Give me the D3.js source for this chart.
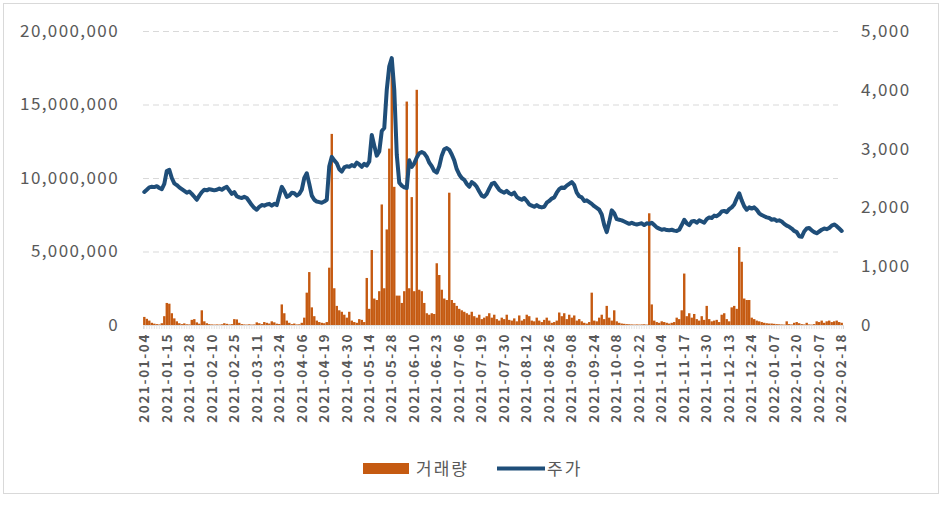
<!DOCTYPE html>
<html>
<head>
<meta charset="utf-8">
<script src="https://cdn.jsdelivr.net/npm/d3@7"></script>
<style>
  body { margin: 0; background: #fff; }
  svg text { font-family: "Noto Sans CJK KR", "Noto Sans", sans-serif; fill: #595959; }
</style>
</head>
<body>
<div id="chart"></div>
<script>
// KRX holidays inside the range (weekdays only)
const holidays = ['2021-02-11', '2021-02-12', '2021-03-01', '2021-05-05', '2021-05-19',
    '2021-08-16', '2021-09-20', '2021-09-21', '2021-09-22', '2021-10-04', '2021-10-11',
    '2021-12-31', '2022-01-31', '2022-02-01', '2022-02-02'];
const firstDay = '2021-01-04', lastDay = '2022-02-18';

// 거래량 (shares), one per trading day
const volume = [
    550000, 420000, 300000, 150000, 90000, 60000, 40000, 120000, 600000, 1500000,
    1450000, 800000, 450000, 250000, 120000, 60000, 110000, 50000, 40000, 350000,
    400000, 180000, 90000, 1000000, 250000, 120000, 60000, 40000, 30000, 40000,
    30000, 50000, 120000, 80000, 40000, 60000, 400000, 380000, 150000, 60000,
    40000, 30000, 50000, 30000, 40000, 180000, 120000, 60000, 200000, 150000,
    100000, 250000, 180000, 90000, 70000, 1400000, 800000, 300000, 150000, 60000,
    100000, 40000, 50000, 150000, 500000, 2200000, 3600000, 1200000, 600000, 300000,
    200000, 150000, 120000, 200000, 3900000, 13000000, 2500000, 1300000, 1000000, 900000,
    700000, 500000, 900000, 300000, 200000, 150000, 400000, 350000, 200000, 3200000,
    1100000, 5100000, 1800000, 1700000, 2300000, 8200000, 2500000, 6500000, 12000000, 18000000,
    9400000, 2000000, 2000000, 1500000, 2300000, 15200000, 2500000, 8700000, 2300000, 16000000,
    2400000, 2300000, 1500000, 800000, 700000, 800000, 750000, 4200000, 3400000, 2400000,
    1800000, 1700000, 9000000, 1700000, 1500000, 1300000, 1100000, 1000000, 900000, 800000,
    700000, 900000, 600000, 500000, 700000, 400000, 500000, 600000, 800000, 500000,
    700000, 400000, 300000, 500000, 400000, 700000, 350000, 300000, 450000, 250000,
    650000, 300000, 400000, 700000, 600000, 300000, 250000, 500000, 300000, 200000,
    350000, 500000, 300000, 150000, 200000, 300000, 850000, 600000, 800000, 400000,
    700000, 500000, 650000, 300000, 400000, 250000, 150000, 100000, 200000, 2200000,
    300000, 250000, 500000, 700000, 400000, 1300000, 500000, 300000, 1000000, 250000,
    150000, 100000, 80000, 60000, 50000, 40000, 30000, 40000, 30000, 40000,
    50000, 30000, 7600000, 1400000, 300000, 200000, 150000, 250000, 200000, 150000,
    100000, 150000, 200000, 500000, 400000, 1000000, 3500000, 600000, 800000, 500000,
    750000, 400000, 300000, 600000, 350000, 1300000, 400000, 250000, 300000, 350000,
    200000, 700000, 800000, 400000, 250000, 1200000, 1300000, 1100000, 5300000, 4300000,
    1800000, 1700000, 1700000, 500000, 400000, 300000, 250000, 200000, 150000, 120000,
    100000, 100000, 80000, 60000, 50000, 40000, 30000, 250000, 60000, 40000,
    150000, 200000, 120000, 60000, 40000, 150000, 40000, 30000, 60000, 250000,
    200000, 300000, 150000, 250000, 300000, 200000, 250000, 300000, 200000, 150000
];

// 주가 (won), one per trading day
const price = [
    2262, 2300, 2340, 2350, 2345, 2360, 2330, 2310, 2400, 2620,
    2640, 2500, 2410, 2380, 2340, 2310, 2280, 2250, 2270, 2230,
    2180, 2130, 2200, 2260, 2300, 2290, 2310, 2300, 2290, 2300,
    2320, 2300, 2330, 2350, 2290, 2230, 2260, 2190, 2170, 2160,
    2180, 2160, 2100, 2040, 1990, 1960, 2010, 2040, 2030, 2050,
    2060, 2030, 2060, 2040, 2200, 2350, 2280, 2180, 2200, 2250,
    2240, 2200, 2230, 2300, 2500, 2580, 2400, 2200, 2130, 2100,
    2090, 2080, 2100, 2130, 2700, 2860, 2800, 2750, 2650, 2610,
    2680, 2700, 2690, 2720, 2700, 2760, 2730, 2690, 2740, 2710,
    2780, 3230, 3050, 2880, 2950, 3300, 3350, 4000, 4400, 4540,
    4000, 2900, 2420, 2370, 2340, 2330, 2800, 2690, 2750, 2850,
    2920, 2940, 2920, 2860, 2760, 2700, 2620, 2590, 2700, 2880,
    2990, 3010, 2980, 2900, 2800, 2650, 2560, 2500, 2470, 2400,
    2350, 2430, 2400, 2350, 2270, 2200, 2180, 2230, 2320, 2400,
    2420, 2360, 2300, 2270, 2250, 2280, 2240, 2220, 2250, 2180,
    2150, 2130, 2160, 2110, 2050, 2030, 2010, 2040, 2010, 2000,
    2010, 2080, 2110, 2150, 2170, 2250, 2310, 2340, 2330, 2370,
    2400, 2430, 2380, 2250, 2190, 2170, 2110, 2120, 2090, 2060,
    2020, 1990, 1960, 1880, 1700, 1580, 1750, 1950, 1900, 1800,
    1790, 1780, 1760, 1740, 1720, 1740, 1720, 1710, 1720, 1730,
    1700, 1730, 1720, 1740, 1700, 1660, 1640, 1620, 1630, 1615,
    1610, 1620, 1605, 1600, 1620, 1700, 1790, 1730, 1700, 1760,
    1770, 1740, 1780, 1760, 1740, 1800, 1830, 1820, 1860, 1850,
    1880, 1930, 1940, 1920, 1970, 2000, 2050, 2150, 2240, 2120,
    2020, 1960, 2000, 1980, 2000, 1960, 1900, 1870, 1850, 1830,
    1820, 1790, 1800, 1770, 1780, 1760, 1720, 1690, 1670, 1640,
    1600, 1580, 1510, 1500, 1590, 1640, 1650, 1610, 1580, 1560,
    1590, 1620, 1640, 1630, 1650, 1690, 1710, 1680, 1640, 1600
];

const volumeTicks = [0, 5000000, 10000000, 15000000, 20000000];
const priceTicks = [0, 1000, 2000, 3000, 4000, 5000];
const labelEvery = 9;
const seriesNames = ['거래량', '주가'];

// trading-day categories
const fmt = d3.utcFormat('%Y-%m-%d');
const dates = d3.utcDay.range(new Date(firstDay), d3.utcDay.offset(new Date(lastDay), 1))
    .filter(d => d.getUTCDay() !== 0 && d.getUTCDay() !== 6)
    .map(fmt)
    .filter(s => !holidays.includes(s));

const width = 944, height = 505;
const plotLeft = 143, plotRight = 843, plotTop = 31, plotBottom = 325;

const svg = d3.select('#chart').append('svg')
    .attr('width', width)
    .attr('height', height);

svg.append('rect')
    .attr('x', 3.5).attr('y', 3.5)
    .attr('width', 935).attr('height', 490)
    .attr('fill', '#fff')
    .attr('stroke', '#d9d9d9');

const x = d3.scaleBand().domain(dates).range([plotLeft, plotRight]).padding(0.04);
const yVol = d3.scaleLinear().domain([0, 20000000]).range([plotBottom, plotTop]);
const yPrice = d3.scaleLinear().domain([0, 5000]).range([plotBottom, plotTop]);

// gridlines
svg.append('g')
    .attr('transform', `translate(${plotLeft},0)`)
    .call(d3.axisLeft(yVol).tickValues(volumeTicks.slice(1)).tickSize(-(plotRight - plotLeft - 5)).tickFormat(''))
    .call(g => g.select('.domain').remove())
    .call(g => g.selectAll('line')
        .attr('stroke', '#d9d9d9')
        .attr('stroke-dasharray', '6,4'));

// left axis
svg.append('g')
    .attr('transform', 'translate(122,0)')
    .call(d3.axisLeft(yVol).tickValues(volumeTicks).tickSize(0).tickFormat(d3.format(',')))
    .call(g => g.select('.domain').remove())
    .call(g => g.selectAll('text')
        .attr('font-size', 17)
        .attr('letter-spacing', '1.4px')
        .attr('fill', '#595959'));

// right axis
svg.append('g')
    .attr('transform', 'translate(858,0)')
    .call(d3.axisRight(yPrice).tickValues(priceTicks).tickSize(0).tickFormat(d3.format(',')))
    .call(g => g.select('.domain').remove())
    .call(g => g.selectAll('text')
        .attr('font-size', 17)
        .attr('letter-spacing', '1.4px')
        .attr('fill', '#595959'));

// bars
svg.append('g')
    .selectAll('rect')
    .data(volume)
    .join('rect')
        .attr('x', (d, i) => x(dates[i]))
        .attr('width', x.bandwidth())
        .attr('y', d => yVol(d))
        .attr('height', d => plotBottom - yVol(d))
        .attr('fill', '#C55A11');

// category axis with small ticks
svg.append('g')
    .attr('transform', `translate(0,${plotBottom})`)
    .call(d3.axisBottom(x).tickSize(4).tickFormat(''))
    .call(g => g.select('.domain').attr('stroke', '#d9d9d9'))
    .call(g => g.selectAll('line').attr('stroke', '#e3e3e3'));

svg.append('g')
    .selectAll('text')
    .data(dates.filter((d, i) => i % labelEvery === 0))
    .join('text')
        .attr('transform', d => `translate(${x(d) + x.bandwidth() / 2},333) rotate(-90)`)
        .attr('text-anchor', 'end')
        .attr('dy', '0.35em')
        .attr('font-size', 13.5)
        .attr('font-weight', 'bold')
        .attr('letter-spacing', '1.6px')
        .attr('fill', '#404040')
        .text(d => d);

// price line
const line = d3.line()
    .x((d, i) => x(dates[i]) + x.bandwidth() / 2)
    .y(d => yPrice(d));

svg.append('path')
    .datum(price)
    .attr('d', line)
    .attr('fill', 'none')
    .attr('stroke', '#1F4E79')
    .attr('stroke-width', 4)
    .attr('stroke-linejoin', 'round')
    .attr('stroke-linecap', 'round');

// legend
const legend = svg.append('g');
legend.append('rect')
    .attr('x', 363).attr('y', 463)
    .attr('width', 46).attr('height', 11)
    .attr('fill', '#C55A11');
legend.append('text')
    .attr('x', 416).attr('y', 469)
    .attr('dy', '0.35em')
    .attr('font-size', 17)
    .attr('letter-spacing', '2px')
    .text(seriesNames[0]);
legend.append('line')
    .attr('x1', 497).attr('x2', 545)
    .attr('y1', 468.5).attr('y2', 468.5)
    .attr('stroke', '#1F4E79')
    .attr('stroke-width', 4);
legend.append('text')
    .attr('x', 547).attr('y', 469)
    .attr('dy', '0.35em')
    .attr('font-size', 17)
    .attr('letter-spacing', '2px')
    .text(seriesNames[1]);
</script>
</body>
</html>
